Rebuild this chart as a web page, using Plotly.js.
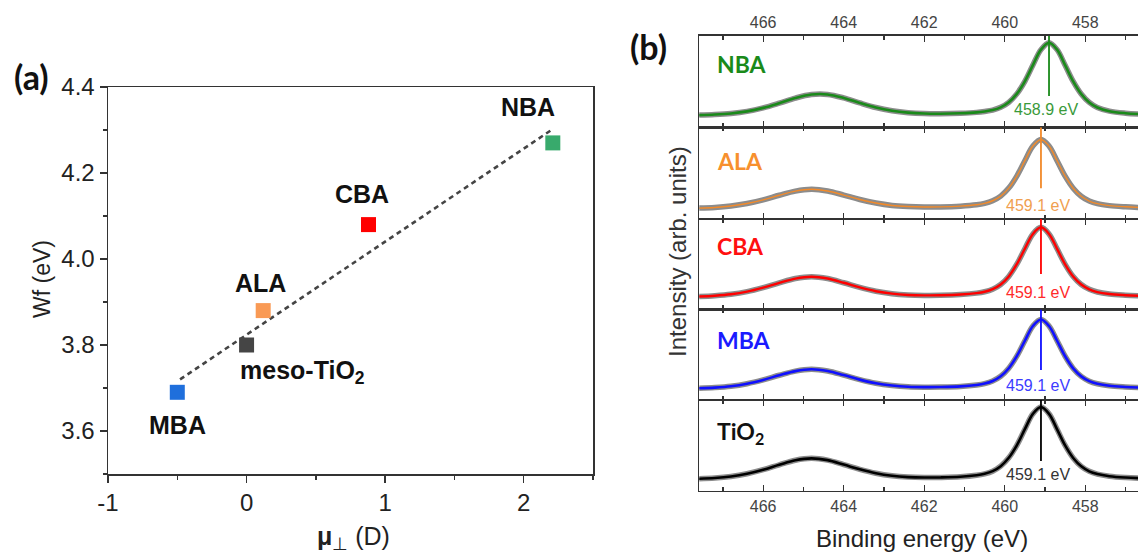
<!DOCTYPE html>
<html><head><meta charset="utf-8">
<script src="https://cdn.plot.ly/plotly-3.0.1.min.js"></script>
<style>html,body{margin:0;padding:0;background:#fff}#chart{width:1138px;height:553px}</style>
</head><body><div id="chart"></div>
<script>
// ---------- Panel (a) data ----------
const molecules = ['MBA', 'meso-TiO<sub>2</sub>', 'ALA', 'CBA', 'NBA'];
const dipole = [-0.5, 0.0, 0.12, 0.88, 2.21];
const workFn = [3.69, 3.80, 3.88, 4.08, 4.27];
const fitDipole = [-0.48, 2.20];
const fitWf = [3.72, 4.30];
const dipoleTickVals = [-1, 0, 1, 2];
const dipoleTickText = ['-1', '0', '1', '2'];

// ---------- Panel (b) data ----------
const energy = [467.6,467.2,466.8,466.4,466.0,465.6,465.2,464.8,464.4,464.0,
  463.6,463.2,462.8,462.4,462.0,461.6,461.1,460.7,460.5,460.3,
  460.1,459.9,459.7,459.5,459.3,459.1,458.9,458.7,458.5,458.3,
  458.1,457.9,457.7,457.4,457.0,456.6];
const nba = [0.133,0.139,0.151,0.174,0.212,0.263,0.319,0.358,0.359,0.321,
  0.266,0.216,0.181,0.160,0.150,0.148,0.153,0.163,0.173,0.188,
  0.218,0.273,0.365,0.502,0.679,0.848,0.923,0.848,0.678,0.501,
  0.363,0.271,0.216,0.176,0.154,0.144];
const ala = [0.119,0.126,0.142,0.169,0.209,0.259,0.304,0.324,0.306,0.261,
  0.213,0.174,0.148,0.136,0.131,0.132,0.140,0.155,0.170,0.199,
  0.250,0.337,0.468,0.636,0.796,0.867,0.796,0.635,0.467,0.336,
  0.248,0.196,0.167,0.146,0.133,0.125];
const cba = [0.142,0.151,0.167,0.196,0.240,0.293,0.341,0.362,0.342,0.295,
  0.243,0.201,0.174,0.160,0.155,0.156,0.164,0.180,0.195,0.224,
  0.276,0.365,0.500,0.671,0.835,0.908,0.835,0.670,0.499,0.364,
  0.275,0.222,0.192,0.170,0.157,0.149];
const mba = [0.129,0.137,0.152,0.180,0.222,0.273,0.319,0.339,0.320,0.275,
  0.225,0.185,0.160,0.146,0.142,0.143,0.150,0.166,0.181,0.210,
  0.262,0.351,0.484,0.654,0.817,0.889,0.817,0.654,0.483,0.349,
  0.261,0.208,0.179,0.157,0.144,0.136];
const tio2 = [0.135,0.143,0.160,0.190,0.234,0.288,0.338,0.359,0.339,0.290,
  0.238,0.195,0.167,0.153,0.148,0.149,0.156,0.173,0.189,0.218,
  0.273,0.365,0.502,0.679,0.848,0.923,0.848,0.678,0.501,0.363,
  0.271,0.216,0.186,0.163,0.148,0.140];
const sampleNames = ['NBA', 'ALA', 'CBA', 'MBA', 'TiO<sub>2</sub>'];
const peakBE = [458.9, 459.1, 459.1, 459.1, 459.1];
const spectra = [nba, ala, cba, mba, tio2];

// ---------- styles ----------
const W = 1138, H = 553;
const markerColors = ['#1f6fdc', '#454545', '#f99a55', '#ff0000', '#38aa6c'];
const labelShift = [[0,-33],[56,-27],[-3,28],[-7,31],[-25,36]];
const fitColors = ['#1a8a1a', '#f28a2a', '#ff0000', '#1010ff', '#000000'];
const fitWidths = [2.6, 1.4, 2.4, 2.6, 2.6];
const nameColors = ['#1a8a1a', '#f7902e', '#ff1010', '#1a1aff', '#111111'];
const peakTextColors = ['#3a9a3a', '#f0a050', '#ff2a2a', '#3c3cff', '#333333'];
const nameY = [0.69, 0.636, 0.70, 0.66, 0.64];
const lineBottom = [0.342, 0.335, 0.392, 0.331, 0.33];
const peakTextY = [0.197, 0.152, 0.186, 0.165, 0.176];
const panelPx = [[35.7,127.3],[127.3,219],[219,309.4],[309.4,400],[400,491]];

const AR = 'Liberation Sans, Arial, sans-serif';
const CAL = 'Lato, Open Sans, sans-serif';

const traces = [];
// panel a
traces.push({x: fitDipole, y: fitWf, mode: 'lines', xaxis: 'x', yaxis: 'y',
  line: {color: '#444', width: 2.6, dash: '5px,4px'}, hoverinfo: 'skip'});
traces.push({x: dipole, y: workFn, mode: 'markers', xaxis: 'x', yaxis: 'y',
  marker: {symbol: 'square', size: 15, color: markerColors}});

const layout = {
  width: W, height: H, margin: {l: 0, r: 0, t: 0, b: 0},
  paper_bgcolor: '#fff', plot_bgcolor: 'rgba(0,0,0,0)', showlegend: false,
  font: {family: AR, color: '#222'},
  xaxis: {domain: [108/W, 593/W], range: [-1, 2.5],
    tickmode: 'array', tickvals: dipoleTickVals, ticktext: dipoleTickText,
    ticks: 'outside', ticklen: 7, tickwidth: 1.5, tickcolor: '#333',
    showline: true, linewidth: 1.5, linecolor: '#333', mirror: true,
    minor: {ticks: 'outside', dtick: 0.5, tick0: 0, ticklen: 4, tickwidth: 1.5, tickcolor: '#333'},
    showgrid: false, zeroline: false, tickfont: {size: 24, family: AR, color: '#222'}},
  yaxis: {domain: [1-474/H, 1-87/H], range: [3.5, 4.4], dtick: 0.2, tick0: 0,
    tickformat: '.1f', ticks: 'outside', ticklen: 7, tickwidth: 1.5, tickcolor: '#333',
    showline: true, linewidth: 1.5, linecolor: '#333', mirror: true,
    minor: {ticks: 'outside', dtick: 0.1, ticklen: 4, tickwidth: 1.5, tickcolor: '#333'},
    showgrid: false, zeroline: false, tickfont: {size: 24, family: AR, color: '#222'}},
  annotations: [], shapes: []
};

function paperText(x, y, text, font, extra) {
  layout.annotations.push(Object.assign({x: x/W, y: 1-y/H, xref: 'paper', yref: 'paper',
    xanchor: 'center', yanchor: 'middle', text: text, showarrow: false, font: font}, extra || {}));
}

// labels for panel a
molecules.forEach((m, i) => {
  layout.annotations.push({x: dipole[i], y: workFn[i], xref: 'x', yref: 'y',
    xanchor: 'center', yanchor: 'middle',
    text: '<b>' + m + '</b>', showarrow: false, xshift: labelShift[i][0], yshift: labelShift[i][1],
    font: {size: 25, family: AR, color: '#111'}});
});
paperText(31, 77, '<b>(a)</b>', {size: 34, family: CAL, color: '#111'});
paperText(648, 47, '<b>(b)</b>', {size: 34, family: CAL, color: '#111'});
paperText(42, 279, 'Wf (eV)', {size: 23, family: AR, color: '#222'}, {textangle: -90});
paperText(353, 538, '<b>μ</b><sub>⊥</sub> (D)', {size: 25, family: AR, color: '#222'});
paperText(677, 252, 'Intensity (arb. units)', {size: 24, family: AR, color: '#333'}, {textangle: -90});
paperText(922, 538, 'Binding energy (eV)', {size: 24, family: AR, color: '#222'});

// panel b
spectra.forEach((vals, i) => {
  const n = i + 2;
  const xa = 'x' + n, ya = 'y' + n;
  traces.push({x: energy, y: vals, mode: 'lines', xaxis: xa, yaxis: ya,
    line: {color: '#8c8c8c', width: 5.5, shape: 'spline', smoothing: 1}, hoverinfo: 'skip'});
  traces.push({x: energy, y: vals, mode: 'lines', xaxis: xa, yaxis: ya,
    line: {color: fitColors[i], width: fitWidths[i], shape: 'spline', smoothing: 1}});
  const top = panelPx[i][0], bot = panelPx[i][1];
  layout['xaxis' + n] = {domain: [699.3/W, 1], range: [467.586, 456.69], anchor: ya,
    dtick: 2, tick0: 0, ticks: 'inside', ticklen: 6, tickwidth: 1.3, tickcolor: '#333',
    minor: {ticks: 'inside', dtick: 1, ticklen: 4, tickwidth: 1.3, tickcolor: '#333'},
    showline: true, linewidth: 1.3, linecolor: '#333', mirror: 'ticks',
    side: i === 0 ? 'top' : 'bottom', showticklabels: (i === 0 || i === 4),
    showgrid: false, zeroline: false, tickfont: {size: 16, family: AR, color: '#444'}};
  if (i > 0) layout['xaxis' + n].matches = 'x2';
  layout['yaxis' + n] = {domain: [1-bot/H, 1-top/H], range: [0, 1], anchor: xa,
    showticklabels: false, ticks: '', showline: true, linewidth: 1.3, linecolor: '#333',
    mirror: false, showgrid: false, zeroline: false};
  layout.shapes.push({type: 'line', xref: xa, yref: ya, x0: peakBE[i], x1: peakBE[i],
    y0: 1, y1: lineBottom[i], line: {color: fitColors[i], width: 1.8}});
  layout.annotations.push({x: peakBE[i], y: peakTextY[i], xref: xa, yref: ya,
    xanchor: 'center', yanchor: 'middle',
    text: peakBE[i].toFixed(1) + ' eV', showarrow: false, xshift: -3,
    font: {size: 16, family: AR, color: peakTextColors[i]}});
  layout.annotations.push({x: 467.2, y: nameY[i], xref: xa, yref: ya, xanchor: 'left', yanchor: 'middle',
    text: '<b>' + sampleNames[i] + '</b>', showarrow: false,
    font: {size: 23, family: CAL, color: nameColors[i]}});
});

Plotly.newPlot('chart', traces, layout, {staticPlot: true, displayModeBar: false});
</script>
</body></html>
